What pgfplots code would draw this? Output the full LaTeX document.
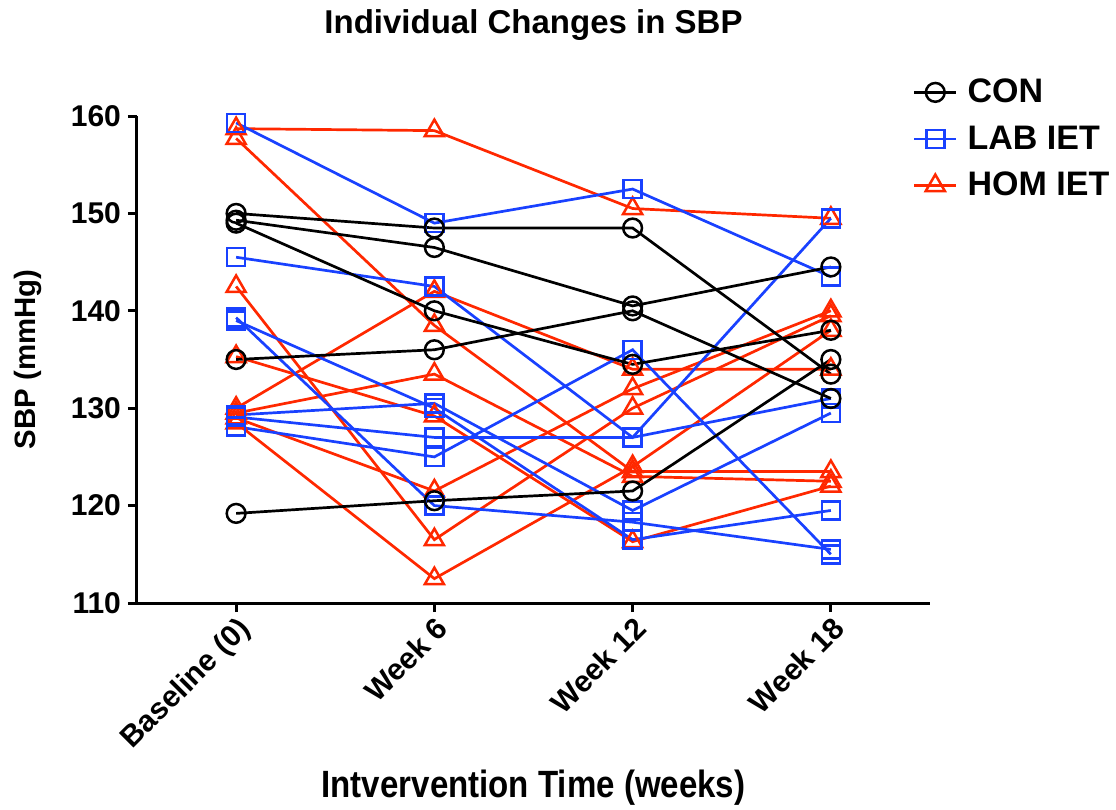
\documentclass[border=0pt]{standalone}
\usepackage{pgfplots}
\pgfplotsset{compat=1.18}
\usepackage{fontspec}
\setmainfont{Liberation Sans}
\newfontfamily\condfont[FakeStretch=0.87]{Liberation Sans}
\definecolor{conc}{RGB}{0,0,0}
\definecolor{labc}{RGB}{25,65,255}
\definecolor{homc}{RGB}{255,40,0}
\pgfplotsset{
  con/.style={conc, line width=1.35pt, mark=o, mark size=4.7pt, mark options={solid, line width=1.25pt}},
  lab/.style={labc, line width=1.35pt, mark=square, mark size=4.5pt, mark options={solid, line width=1.25pt}},
  hom/.style={homc, line width=1.35pt, mark=triangle, mark size=5.5pt, mark options={solid, line width=1.25pt}},
}
\begin{document}
\begin{tikzpicture}
\useasboundingbox (-68.5pt,-103.5pt) rectangle (489.5pt,301.5pt);
\begin{axis}[
  at={(0,0)}, anchor=south west,
  scale only axis, width=396.5pt, height=243.5pt,
  xmin=-0.5, xmax=3.5, ymin=110, ymax=160,
  axis lines=left, axis line style={-, line width=1.5pt},
  xtick={0,1,2,3}, xticklabels={Baseline (0), Week 6, Week 12, Week 18},
  ytick={110,120,...,160},
  minor tick num=0,
  tick align=outside, major tick length=4.5pt,
  every tick/.style={line width=1.5pt, black},
  x tick label style={rotate=45, anchor=north east, font=\bfseries\fontsize{15}{15}\selectfont, inner sep=1pt},
  y tick label style={font=\bfseries\fontsize{15}{15}\selectfont},
  /pgf/number format/assume math mode=true,
  xlabel={Intvervention Time (weeks)},
  xlabel style={at={(axis description cs:0.5,-0.380)}, anchor=center, yshift=0pt, font=\condfont\bfseries\fontsize{19}{19}\selectfont},
  ylabel={SBP (mmHg)},
  ylabel style={at={(axis description cs:-0.1375,0.5)}, anchor=center, rotate=0, font=\bfseries\fontsize{14.7}{14.7}\selectfont},
  reverse legend,
  legend cell align=left,
  legend style={at={(axis description cs:0.978,1.085)}, anchor=north west, draw=none, fill=none,
    font=\bfseries\fontsize{17}{17}\selectfont, row sep=6pt, inner sep=0pt,
    /tikz/every odd column/.style={column sep=3pt}},
  legend image code/.code={\draw[mark repeat=2, mark phase=2] plot coordinates {(0pt,0pt) (10.5pt,0pt) (21pt,0pt)};},
  clip=false,
]
% HOM IET
\addplot[hom] coordinates {(0,158.7) (1,158.5) (2,150.5) (3,149.5)};
\addlegendentry{HOM IET}
\addplot[hom, forget plot] coordinates {(0,157.7) (1,138.5) (2,123.5) (3,123.5)};
\addplot[hom, forget plot] coordinates {(0,142.5) (1,116.5) (2,130) (3,139.5)};
\addplot[hom, forget plot] coordinates {(0,135.3) (1,129.2) (2,116.3) (3,122)};
\addplot[hom, forget plot] coordinates {(0,130) (1,142) (2,134) (3,134)};
\addplot[hom, forget plot] coordinates {(0,129.5) (1,133.5) (2,123) (3,122.5)};
\addplot[hom, forget plot] coordinates {(0,129) (1,121.5) (2,132) (3,140)};
\addplot[hom, forget plot] coordinates {(0,128.5) (1,112.5) (2,124) (3,138)};
% LAB IET
\addplot[lab] coordinates {(0,159.3) (1,149) (2,152.5) (3,143.5)};
\addlegendentry{LAB IET}
\addplot[lab, forget plot] coordinates {(0,145.5) (1,142.5) (2,127) (3,149.5)};
\addplot[lab, forget plot] coordinates {(0,139.3) (1,120) (2,118.3) (3,115.5)};
\addplot[lab, forget plot] coordinates {(0,139) (1,130) (2,116.5) (3,119.5)};
\addplot[lab, forget plot] coordinates {(0,129.3) (1,130.5) (2,119.5) (3,129.5)};
\addplot[lab, forget plot] coordinates {(0,129.1) (1,127) (2,127) (3,131)};
\addplot[lab, forget plot] coordinates {(0,128.1) (1,125) (2,136) (3,115)};
% CON
\addplot[con] coordinates {(0,150) (1,148.5) (2,148.5) (3,133.5)};
\addlegendentry{CON}
\addplot[con, forget plot] coordinates {(0,149.3) (1,146.5) (2,140.5) (3,144.5)};
\addplot[con, forget plot] coordinates {(0,149) (1,140) (2,134.5) (3,138)};
\addplot[con, forget plot] coordinates {(0,135) (1,136) (2,140) (3,131)};
\addplot[con, forget plot] coordinates {(0,119.2) (1,120.5) (2,121.5) (3,135)};
\node[font=\bfseries\fontsize{16.5}{16.5}\selectfont, anchor=center] at (rel axis cs:0.5,1.187) {Individual Changes in SBP};
\end{axis}
\end{tikzpicture}
\end{document}
